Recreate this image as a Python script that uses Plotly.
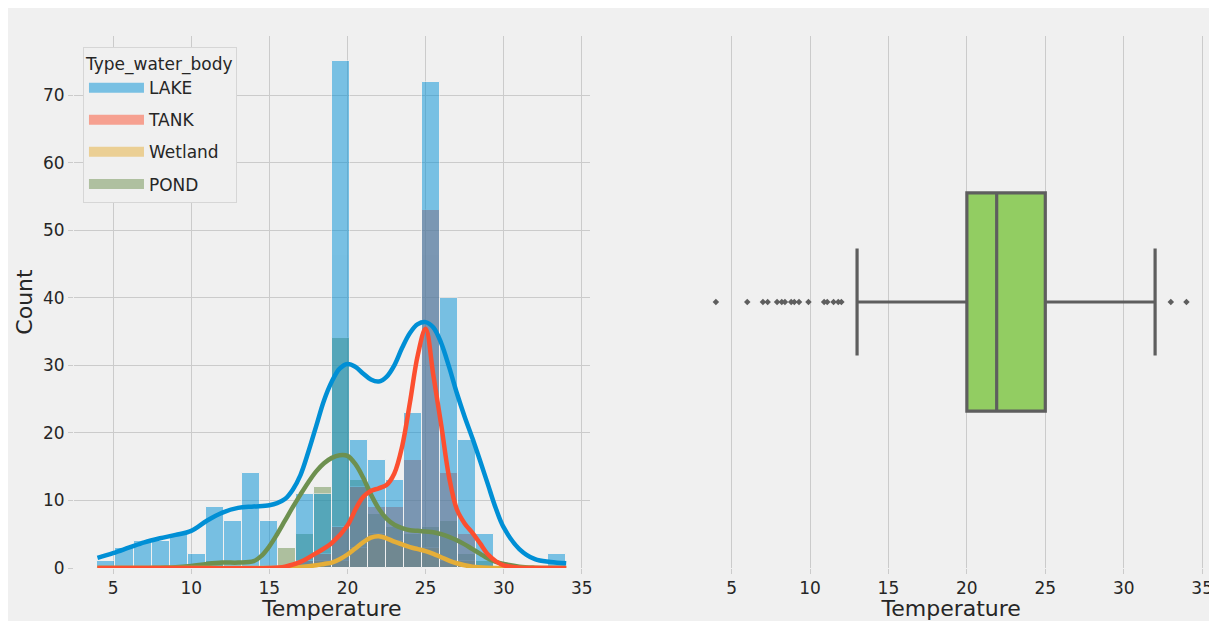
import numpy as np
import plotly.graph_objects as go

# ---------------- data ----------------
types = ["LAKE", "TANK", "Wetland", "POND"]
colors = {"LAKE": "#008fd5", "TANK": "#fc4f30", "Wetland": "#e5ae38", "POND": "#6d904f"}

bin_start = 4.0
bin_end = 34.0
n_bins = 26

lake_counts = [1, 3, 4, 4, 5, 2, 9, 7, 14, 7, 0, 11, 11, 75, 19, 16, 13, 23, 72, 40, 19, 5, 0, 0, 0, 2]
tank_counts = [0, 0, 0, 0, 0, 0, 0, 0, 0, 0, 0, 1, 2, 6, 12, 9, 9, 16, 53, 14, 5, 0, 0, 0, 0, 0]
wetland_counts = [0, 0, 0, 0, 0, 0, 0, 0, 0, 0, 0, 0, 1, 1, 3, 5, 4, 3, 3, 1, 1, 0, 0, 0, 0, 0]
pond_counts = [0, 0, 0, 0, 0, 0, 1, 0, 0, 0, 3, 5, 12, 34, 13, 8, 6, 5, 6, 7, 2, 1, 0, 0, 0, 0]

# KDE curves (count scale)
lake_kde_x = [4, 5, 6, 7, 8, 9, 10, 11, 12, 13, 14, 15, 15.5, 16, 16.5, 17, 17.5, 18, 18.5, 19, 19.5,
              20, 20.5, 21, 21.5, 22, 22.5, 23, 23.5, 24, 24.5, 25, 25.5, 26, 26.5, 27, 27.5, 28,
              28.5, 29, 29.5, 30, 31, 32, 33, 34]
lake_kde = [1.5, 2.2, 3.0, 3.8, 4.4, 4.9, 5.5, 7.0, 8.2, 8.9, 9.1, 9.3, 9.6, 10.2, 11.6, 13.8, 17.2,
            21.0, 24.8, 27.6, 29.5, 30.2, 29.8, 28.8, 27.9, 27.6, 28.3, 30.0, 32.6, 34.8, 36.1, 36.4,
            35.6, 33.3, 29.8, 25.9, 22.4, 19.2, 15.8, 12.3, 8.8, 6.0, 2.8, 1.3, 0.9, 0.7]

tank_kde_x = [4, 10, 15, 16, 17, 18, 19, 20, 20.5, 21, 21.5, 22, 22.5, 23, 23.5, 24, 24.5, 25, 25.5,
              26, 26.5, 27, 27.5, 28, 28.5, 29, 29.5, 30, 31, 32, 34]
tank_kde = [0, 0, 0, 0.2, 0.9, 2.2, 3.7, 6.3, 8.6, 10.5, 11.4, 11.8, 12.3, 14.0, 18.0, 24.5, 31.5,
            35.4, 28.5, 21.2, 13.5, 8.7, 6.6, 5.2, 3.6, 2.0, 1.0, 0.4, 0.05, 0, 0]

wetland_kde_x = [4, 10, 15, 16, 17, 18, 18.5, 19, 19.5, 20, 20.5, 21, 21.5, 22, 22.5, 23, 23.5, 24,
                 24.5, 25, 25.5, 26, 26.5, 27, 27.5, 28, 29, 30, 34]
wetland_kde = [0, 0, 0, 0.05, 0.15, 0.4, 0.6, 0.8, 1.3, 2.0, 2.9, 3.8, 4.5, 4.7, 4.4, 3.9, 3.5, 3.1,
               2.8, 2.5, 2.1, 1.6, 1.1, 0.7, 0.4, 0.2, 0.05, 0, 0]

pond_kde_x = [4, 5, 6, 7, 8, 9, 10, 11, 12, 13, 14, 14.5, 15, 15.5, 16, 16.5, 17, 17.5, 18, 18.5, 19,
              19.5, 20, 20.5, 21, 21.5, 22, 22.5, 23, 23.5, 24, 24.5, 25, 25.5, 26, 26.5, 27, 27.5,
              28, 28.5, 29, 29.5, 30, 31, 32, 33, 34]
pond_kde = [0, 0, 0, 0, 0.05, 0.1, 0.3, 0.6, 0.8, 0.8, 1.0, 1.8, 3.2, 5.0, 7.0, 9.0, 10.9, 12.7, 14.3,
            15.5, 16.3, 16.7, 16.6, 15.4, 13.4, 10.9, 8.8, 7.3, 6.4, 5.9, 5.6, 5.5, 5.4, 5.3, 5.0,
            4.6, 4.1, 3.5, 2.8, 2.1, 1.4, 0.9, 0.6, 0.2, 0.05, 0, 0]

# boxplot statistics (Temperature, all water bodies)
box_q1 = 20
box_median = 21.9
box_q3 = 25
box_low = 13
box_high = 32
box_outliers = [4.0, 6.0, 7.0, 7.3, 7.9, 8.2, 8.4, 8.8, 9.0, 9.3, 9.9, 10.9, 11.1, 11.5, 11.8, 12.0, 33, 34]

tick_vals = [5, 10, 15, 20, 25, 30, 35]
count_ticks = [0, 10, 20, 30, 40, 50, 60, 70]

counts = {"LAKE": lake_counts, "TANK": tank_counts, "Wetland": wetland_counts, "POND": pond_counts}
kdes = {"LAKE": (lake_kde_x, lake_kde), "TANK": (tank_kde_x, tank_kde),
        "Wetland": (wetland_kde_x, wetland_kde), "POND": (pond_kde_x, pond_kde)}

# ---------------- figure ----------------
W, H = 1209, 613
ml, mr, mt, mb = 66, 4, 28, 53
pw, ph = W - ml - mr, H - mt - mb

edges = np.linspace(bin_start, bin_end, n_bins + 1)
centers = (edges[:-1] + edges[1:]) / 2
bw = edges[1] - edges[0]

FONT = "DejaVu Sans"
BG = "#f0f0f0"
GRID = "#cbcbcb"
TXT = "#262626"

fig = go.Figure()

# histogram bars (drawn in reverse so LAKE ends on top)
for t in reversed(types):
    fig.add_trace(go.Bar(
        x=centers, y=counts[t], width=bw,
        marker=dict(color=colors[t], line=dict(color=BG, width=1)),
        opacity=0.5, showlegend=False, xaxis="x", yaxis="y",
        hoverinfo="skip",
    ))

# KDE lines
for t in reversed(types):
    kx, ky = kdes[t]
    fig.add_trace(go.Scatter(
        x=kx, y=ky, mode="lines",
        line=dict(color=colors[t], width=4.5, shape="spline", smoothing=1.0),
        showlegend=False, xaxis="x", yaxis="y",
    ))

# legend entries
for t in types:
    fig.add_trace(go.Scatter(
        x=[None], y=[None], mode="lines", name=t,
        line=dict(color=colors[t], width=12), opacity=0.5,
        legendgroup=t, xaxis="x", yaxis="y",
    ))

# boxplot
fig.add_trace(go.Box(
    orientation="h", y=[0],
    q1=[box_q1], median=[box_median], q3=[box_q3],
    lowerfence=[box_low], upperfence=[box_high],
    width=0.41, whiskerwidth=0.49,
    fillcolor="#92cd62", line=dict(color="#5e5e5e", width=3.2),
    boxpoints=False, showlegend=False, xaxis="x2", yaxis="y2",
))
fig.add_trace(go.Scatter(
    x=box_outliers, y=[0] * len(box_outliers), mode="markers",
    marker=dict(symbol="diamond", size=5, color="#5e5e5e"),
    showlegend=False, xaxis="x2", yaxis="y2",
))

axis_common = dict(
    showgrid=True, gridcolor=GRID, gridwidth=1.3, zeroline=False,
    showline=False, ticks="outside", ticklen=5, tickcolor=GRID,
    tickfont=dict(family=FONT, size=17, color=TXT),
)
title_font = dict(size=22, family=FONT, color=TXT)

fig.update_layout(
    width=W, height=H,
    margin=dict(l=ml, r=mr, t=mt, b=mb),
    paper_bgcolor=BG, plot_bgcolor=BG,
    barmode="overlay", bargap=0,
    font=dict(family=FONT, color=TXT),
    xaxis=dict(domain=[0, (583 - ml) / pw], range=[2.5, 35.5], tickvals=tick_vals,
               title=dict(text="Temperature", font=title_font, standoff=2),
               anchor="y", **axis_common),
    yaxis=dict(range=[0, 78.75], tickvals=count_ticks,
               title=dict(text="Count", font=title_font, standoff=4),
               anchor="x", **axis_common),
    xaxis2=dict(domain=[(686 - ml) / pw, 1], range=[2.5, 35.5], tickvals=tick_vals,
                title=dict(text="Temperature", font=title_font, standoff=2),
                anchor="y2", **axis_common),
    yaxis2=dict(range=[-0.5, 0.5], showgrid=False, zeroline=False, showticklabels=False,
                ticks="", showline=False, anchor="x2"),
    legend=dict(
        x=(75 - ml) / pw, y=(H - mb - 39) / ph, xanchor="left", yanchor="top",
        bgcolor=BG, bordercolor="#d6d6d6", borderwidth=1,
        title=dict(text="Type_water_body", font=dict(size=17, family=FONT, color=TXT)),
        font=dict(size=17, family=FONT, color=TXT),
        itemwidth=55, tracegroupgap=7, traceorder="grouped",
    ),
)

fig.write_html("out.html")
